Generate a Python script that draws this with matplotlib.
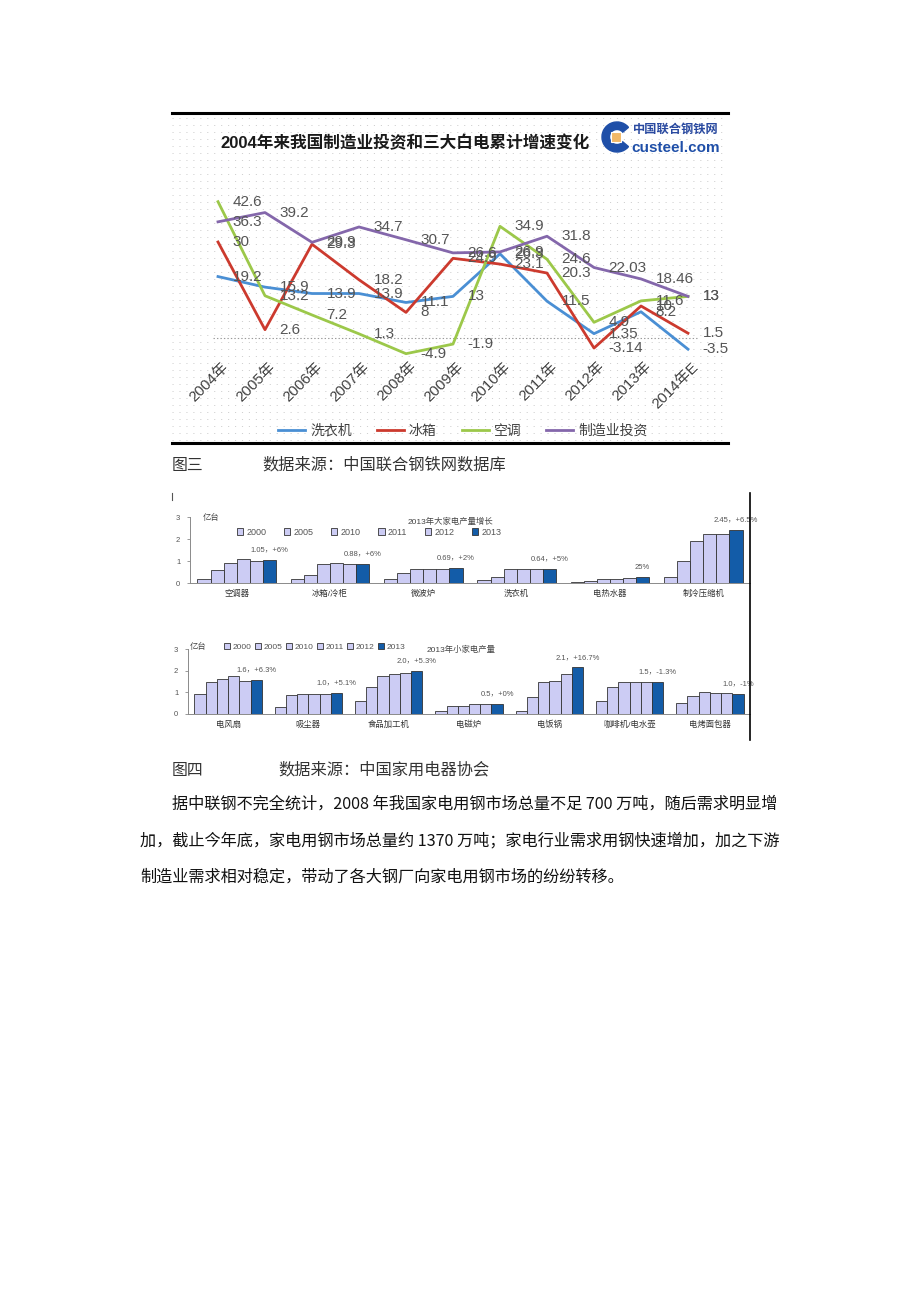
import matplotlib
matplotlib.use("Agg")
import matplotlib.pyplot as plt
from matplotlib.lines import Line2D
from matplotlib.patches import Wedge, Rectangle
import numpy as np

plt.rcParams['font.family'] = ['Liberation Sans', 'Noto Sans CJK SC', 'DejaVu Sans']
plt.rcParams['lines.scale_dashes'] = False

W, H = 920, 1302

# ---- 图三: line chart data ----
years = ['2004年', '2005年', '2006年', '2007年', '2008年', '2009年',
         '2010年', '2011年', '2012年', '2013年', '2014年E']
washer = [19.2, 15.9, 13.9, 13.9, 11.1, 13, 26.3, 11.5, 1.35, 8.2, -3.5]
fridge = [30, 2.6, 29.3, 18.2, 8, 24.9, 23.1, 20.3, -3.14, 10.0, 1.5]
aircon = [42.6, 13.2, 7.2, 1.3, -4.9, -1.9, 34.9, 24.6, 4.9, 11.6, 13]
mfg_invest = [36.3, 39.2, 29.9, 34.7, 30.7, 26.6, 26.9, 31.8, 22.03, 18.46, 13]
line_names = ['洗衣机', '冰箱', '空调', '制造业投资']
line_colors = ['#4a8fd4', '#cc3a2e', '#9cc84a', '#8467ab']

# ---- 图四: bar chart data ----
bar_years = ['2000', '2005', '2010', '2011', '2012', '2013']

big_cats = ['空调器', '冰箱/冷柜', '微波炉', '洗衣机', '电热水器', '制冷压缩机']
big_2000 = [0.19, 0.19, 0.19, 0.15, 0.03, 0.27]
big_2005 = [0.60, 0.37, 0.47, 0.27, 0.07, 1.00]
big_2010 = [0.89, 0.86, 0.64, 0.62, 0.17, 1.93]
big_2011 = [1.08, 0.89, 0.65, 0.65, 0.17, 2.22]
big_2012 = [1.00, 0.86, 0.65, 0.62, 0.23, 2.25]
big_2013 = [1.05, 0.88, 0.69, 0.64, 0.26, 2.42]
big_notes = ['1.05，+6%', '0.88，+6%', '0.69，+2%', '0.64，+5%', '25%', '2.45，+6.5%']

small_cats = ['电风扇', '吸尘器', '食品加工机', '电磁炉', '电饭锅', '咖啡机/电水壶', '电烤面包器']
small_2000 = [0.91, 0.34, 0.60, 0.15, 0.14, 0.60, 0.53]
small_2005 = [1.46, 0.88, 1.25, 0.37, 0.77, 1.23, 0.81]
small_2010 = [1.60, 0.91, 1.77, 0.37, 1.49, 1.49, 1.01]
small_2011 = [1.74, 0.94, 1.83, 0.47, 1.54, 1.49, 0.98]
small_2012 = [1.51, 0.91, 1.91, 0.47, 1.86, 1.49, 0.97]
small_2013 = [1.57, 0.97, 2.00, 0.47, 2.15, 1.49, 0.94]
small_notes = ['1.6，+6.3%', '1.0，+5.1%', '2.0，+5.3%', '0.5，+0%',
               '2.1，+16.7%', '1.5，-1.3%', '1.0，-1%']

fig = plt.figure(figsize=(W / 100, H / 100), dpi=100)
fig.patch.set_facecolor('white')


def fx(x):
    return x / W


def fy(y):
    return 1 - y / H


def px_axes(x0, y0, x1, y1):
    return fig.add_axes([fx(x0), fy(y1), (x1 - x0) / W, (y1 - y0) / H])


def hline(x0, x1, y, **kw):
    fig.add_artist(Line2D([fx(x0), fx(x1)], [fy(y), fy(y)], **kw))


def vline(x, y0, y1, **kw):
    fig.add_artist(Line2D([fx(x), fx(x)], [fy(y0), fy(y1)], **kw))


# ================= line chart =================
ax = px_axes(172, 115, 728, 441)
x0_px, step_px, zero_px, unit_px = 218, 47.0, 338, 3.2
ax.set_xlim(-(x0_px - 172) / step_px, 10 + (728 - (x0_px + 10 * step_px)) / step_px)
ax.set_ylim(-(441 - zero_px) / unit_px, (zero_px - 115) / unit_px)
ax.axis('off')

# dotted background texture
for yy in np.arange(-32, 70, 7 / unit_px):
    ax.axhline(yy, color='#d0d0d0', lw=0.7, ls=(0, (0.8, 4.2)), zorder=0)

ax.hlines(0, -0.1, 10.2, colors='#9a9a9a', linestyles=(0, (1, 1.5)), lw=0.8, zorder=1)

x = np.arange(len(years))
handles = []
for vals, name, col in zip([washer, fridge, aircon, mfg_invest], line_names, line_colors):
    h, = ax.plot(x, vals, color=col, lw=2.0, label=name, zorder=3)
    handles.append(h)
    for i, v in enumerate(vals):
        ax.annotate(f'{v:g}', (i, v), xytext=(10.5, 0), textcoords='offset points',
                    ha='left', va='center', fontsize=11, color='#555555', zorder=4)

for i, yr in enumerate(years):
    ax.text(i + 0.17, -8.3, yr, rotation=45, rotation_mode='anchor', ha='right',
            va='center', fontsize=10.8, color='#404040')

fig.legend(handles, line_names, loc='center', bbox_to_anchor=(fx(463), fy(431)),
           ncol=4, frameon=False, fontsize=10, handlelength=1.95, handletextpad=0.35,
           columnspacing=1.8, labelcolor='#404040')

fig.text(fx(405), fy(143), '2004年来我国制造业投资和三大白电累计增速变化',
         ha='center', va='center', fontsize=12, fontweight='bold', color='#1a1a1a')

# logo
fig.add_artist(Wedge((6.17, (H - 137) / 100), 0.15, 40, 320, width=0.075,
                     color='#1f4fa8', transform=fig.dpi_scale_trans))
fig.add_artist(Rectangle((6.11, (H - 142) / 100), 0.1, 0.1, facecolor='#f2b866',
                         edgecolor='white', lw=0.8, transform=fig.dpi_scale_trans))
fig.text(fx(676), fy(130), '中国联合钢铁网', ha='center', va='center', fontsize=8.8,
         fontweight='bold', color='#2a4aa0')
fig.text(fx(676), fy(148), 'custeel.com', ha='center', va='center', fontsize=11,
         fontweight='bold', color='#1f4fa8')

hline(172, 728, 113, color='black', lw=2.2)
hline(172, 728, 443, color='black', lw=2.2)

fig.text(fx(172), fy(465), '图三', ha='left', va='center', fontsize=11.4, color='#333333')
fig.text(fx(262), fy(465), '数据来源：中国联合钢铁网数据库', ha='left', va='center',
         fontsize=11.7, color='#333333')

# ================= bar charts =================
light = '#ccccf4'
dark = '#135ca8'


def bar_panel(box, cats, series, notes, leg_x, leg_y, leg_fs, leg_cs):
    bx = px_axes(*box)
    bx.set_ylim(0, 3)
    bx.set_xlim(-0.5, len(cats) - 0.5)
    bw = 0.14
    xs = np.arange(len(cats))
    for j, (yr, vals) in enumerate(zip(bar_years, series)):
        bx.bar(xs + (j - 2.5) * bw, vals, bw, color=dark if yr == '2013' else light,
               edgecolor='#333333', lw=0.6, label=yr, zorder=2)
    for i, note in enumerate(notes):
        bx.text(i + 2.5 * bw, series[-1][i] + 0.45, note, ha='center', va='center',
                fontsize=5.5, color='#555555')
    for s in ['top', 'right']:
        bx.spines[s].set_visible(False)
    for s in ['left', 'bottom']:
        bx.spines[s].set_color('#8a8a8a')
        bx.spines[s].set_linewidth(0.7)
    bx.set_yticks([0, 1, 2, 3])
    bx.set_yticklabels(['0', '1', '2', '3'])
    bx.tick_params(axis='y', length=2, width=0.6, colors='#8a8a8a', labelsize=5.5,
                   labelcolor='#555555', pad=5)
    bx.set_xticks(xs)
    bx.set_xticklabels(cats)
    bx.tick_params(axis='x', length=0, labelsize=6, labelcolor='#333333', pad=5)
    h, l = bx.get_legend_handles_labels()
    fig.legend(h, l, loc='center left', bbox_to_anchor=(fx(leg_x), fy(leg_y)), ncol=6,
               frameon=False, fontsize=leg_fs, handlelength=0.7, handleheight=0.7,
               handletextpad=0.35, columnspacing=leg_cs, borderpad=0, borderaxespad=0,
               labelcolor='#555555')
    return bx


bar_panel((190, 517, 750, 583), big_cats,
          [big_2000, big_2005, big_2010, big_2011, big_2012, big_2013],
          big_notes, 237, 532, 6.5, 1.95)
fig.text(fx(203), fy(518), '亿台', ha='left', va='center', fontsize=6, color='#444444')
fig.text(fx(450), fy(522), '2013年大家电产量增长', ha='center', va='center', fontsize=6,
         color='#444444')

bar_panel((188, 649, 750, 714), small_cats,
          [small_2000, small_2005, small_2010, small_2011, small_2012, small_2013],
          small_notes, 224, 647, 6, 0.4)
fig.text(fx(190), fy(647), '亿台', ha='left', va='center', fontsize=6, color='#444444')
fig.text(fx(427), fy(650), '2013年小家电产量', ha='left', va='center', fontsize=6,
         color='#444444')

vline(750, 493, 740, color='black', lw=1.2)
vline(172, 493, 500, color='#555555', lw=0.8)

fig.text(fx(172), fy(770), '图四', ha='left', va='center', fontsize=11.4, color='#333333')
fig.text(fx(278), fy(770), '数据来源：中国家用电器协会', ha='left', va='center',
         fontsize=11.7, color='#333333')

# ================= paragraph =================
para = [
    (172, 804, '据中联钢不完全统计，2008 年我国家电用钢市场总量不足 700 万吨，随后需求明显增'),
    (140, 841, '加，截止今年底，家电用钢市场总量约 1370 万吨；家电行业需求用钢快速增加，加之下游'),
    (140, 877, '制造业需求相对稳定，带动了各大钢厂向家电用钢市场的纷纷转移。'),
]
for px_, py_, line in para:
    fig.text(fx(px_), fy(py_), line, ha='left', va='center', fontsize=11.65, color='#111111',
             family=['Noto Sans CJK SC', 'DejaVu Sans'])

fig.savefig('out.png', dpi=100, facecolor='white')
